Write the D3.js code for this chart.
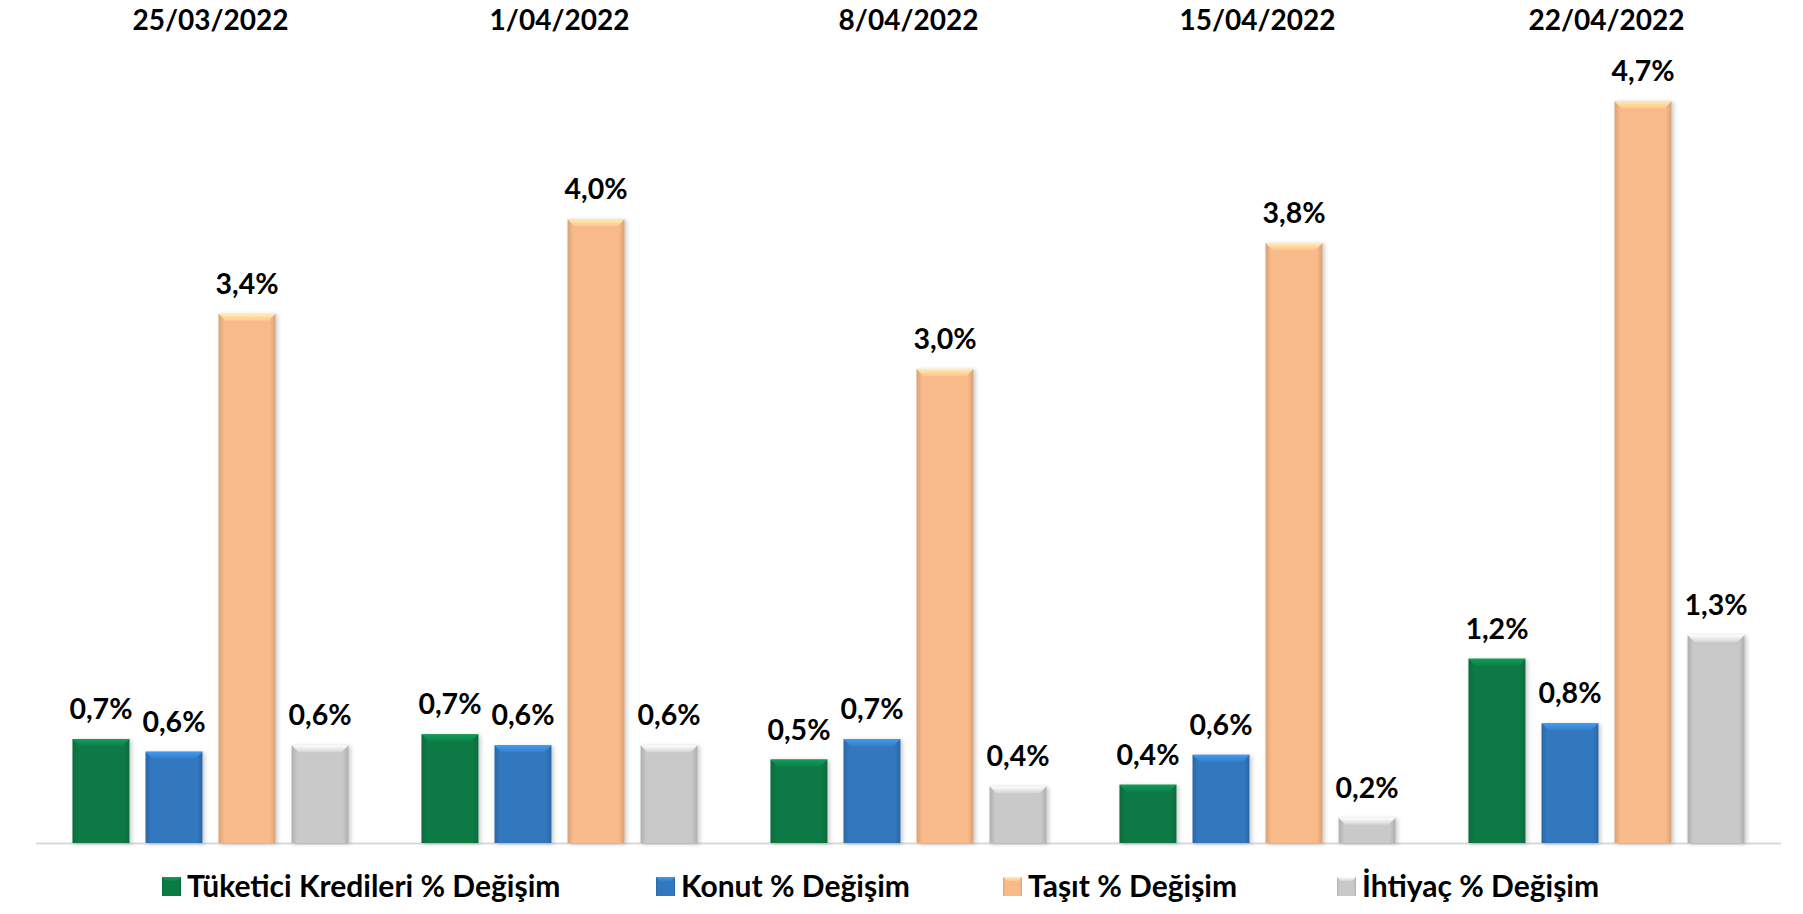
<!DOCTYPE html>
<html>
<head>
<meta charset="utf-8">
<script src="https://cdnjs.cloudflare.com/ajax/libs/d3/7.8.5/d3.min.js"></script>
<style>
	html, body { margin: 0; padding: 0; background: #fff; }
	svg text { font-family: "Lato", "Open Sans", sans-serif; font-weight: bold; fill: #000; }
</style>
</head>
<body>
<script>
/*--chart data--*/
var dates = ["25/03/2022", "1/04/2022", "8/04/2022", "15/04/2022", "22/04/2022"];
var series = ["Tüketici Kredileri % Değişim", "Konut % Değişim", "Taşıt % Değişim", "İhtiyaç % Değişim"];
var tuketici = [0.66, 0.69, 0.53, 0.37, 1.17];
var konut = [0.58, 0.62, 0.66, 0.56, 0.76];
var tasit = [3.36, 3.96, 3.01, 3.81, 4.71];
var ihtiyac = [0.62, 0.62, 0.36, 0.16, 1.32];
var colors = ["#0c7a45", "#3278be", "#f9ba89", "#c9c9c9"];
/*--END chart data--*/

function draw_chart() {
	var width = 1803,
		height = 914,
		base_y = 843;

	var values = [tuketici, konut, tasit, ihtiyac];

	//one row per date, one cell per series
	var rows = dates.map(function (d, i) {
		return {
			date: d,
			cells: series.map(function (s, j) {
				return { key: s, idx: j, value: values[j][i] };
			})
		};
	});

	var tr = d3.formatLocale({ decimal: ",", thousands: ".", grouping: [3], currency: ["", ""] });
	var fmt = tr.format(".1f");

	var svg = d3.select("body").append("svg")
		.attr("width", width)
		.attr("height", height);

	var defs = svg.append("defs");

	//bar shadow
	var shadow = defs.append("filter")
		.attr("id", "bar_shadow")
		.attr("x", "-20%").attr("y", "-10%")
		.attr("width", "140%").attr("height", "120%");
	shadow.append("feDropShadow")
		.attr("dx", 2).attr("dy", 1)
		.attr("stdDeviation", 2)
		.attr("flood-color", "#000")
		.attr("flood-opacity", 0.22);

	//side gradients (darker edges) + top bevel gradients
	colors.forEach(function (c, j) {
		var g = defs.append("linearGradient")
			.attr("id", "side_" + j)
			.attr("x1", "0").attr("x2", "1").attr("y1", "0").attr("y2", "0");
		var dark = d3.color(c).darker(0.4);
		g.append("stop").attr("offset", "0%").attr("stop-color", dark);
		g.append("stop").attr("offset", "10%").attr("stop-color", c);
		g.append("stop").attr("offset", "90%").attr("stop-color", c);
		g.append("stop").attr("offset", "100%").attr("stop-color", dark);

		var t = defs.append("linearGradient")
			.attr("id", "top_" + j)
			.attr("x1", "0").attr("x2", "0").attr("y1", "0").attr("y2", "1");
		t.append("stop").attr("offset", "0%").attr("stop-color", d3.color(c).brighter(0.7));
		t.append("stop").attr("offset", "100%").attr("stop-color", d3.color(c).brighter(0.15));
	});

	//scales
	var x0 = d3.scaleBand()
		.domain(dates)
		.range([36, 1781])
		.paddingInner(0.209)
		.paddingOuter(0.1045);

	var x1 = d3.scaleBand()
		.domain(series)
		.range([0, x0.bandwidth()])
		.paddingInner(0.22);

	var y = d3.scaleLinear()
		.domain([0, 5])
		.range([base_y, base_y - 5 * 157.5]);

	//baseline
	svg.append("line")
		.attr("x1", x0.range()[0]).attr("x2", x0.range()[1])
		.attr("y1", base_y + 0.5).attr("y2", base_y + 0.5)
		.style("stroke", "#d9d9d9")
		.style("stroke-width", 2);

	//category labels on top
	var top_axis = d3.axisTop(x0).tickSize(0).tickPadding(0);
	var ax = svg.append("g")
		.attr("transform", "translate(0,30)")
		.call(top_axis);
	ax.select(".domain").remove();
	ax.selectAll("text")
		.attr("y", 0)
		.attr("dy", 0)
		.style("font-size", "28px")
		.style("font-family", "Lato, 'Open Sans', sans-serif")
		.style("font-weight", "bold")
		.attr("fill", "#000");

	var groups = svg.selectAll(".grp")
		.data(rows)
		.enter().append("g")
		.attr("class", "grp")
		.attr("transform", function (d) { return "translate(" + x0(d.date) + ",0)"; });

	var bars = groups.selectAll(".bar")
		.data(function (d) { return d.cells; })
		.enter().append("g")
		.attr("class", "bar");

	bars.append("rect")
		.attr("x", function (d) { return x1(d.key); })
		.attr("y", function (d) { return y(d.value); })
		.attr("width", x1.bandwidth())
		.attr("height", function (d) { return base_y - y(d.value); })
		.attr("fill", function (d) { return "url(#side_" + d.idx + ")"; })
		.attr("filter", "url(#bar_shadow)");

	//top bevel
	var bev = 7;
	bars.append("polygon")
		.attr("points", function (d) {
			var xl = x1(d.key), xr = xl + x1.bandwidth(), yt = y(d.value);
			var h = Math.min(bev, (base_y - yt) / 2);
			return [xl, yt, xr, yt, xr - h, yt + h, xl + h, yt + h].join(" ");
		})
		.attr("fill", function (d) { return "url(#top_" + d.idx + ")"; });

	//value labels
	bars.append("text")
		.attr("x", function (d) { return x1(d.key) + x1.bandwidth() / 2; })
		.attr("y", function (d) { return y(d.value) - 20; })
		.attr("text-anchor", "middle")
		.style("font-size", "28.5px")
		.text(function (d) { return fmt(d.value) + "%"; });

	//legend
	var legend_x = [162, 656, 1003, 1337];
	var leg = svg.selectAll(".leg")
		.data(series)
		.enter().append("g")
		.attr("class", "leg")
		.attr("transform", function (d, i) { return "translate(" + legend_x[i] + ",0)"; });

	leg.append("rect")
		.attr("x", 0).attr("y", 877)
		.attr("width", 19).attr("height", 19)
		.attr("fill", function (d, i) { return "url(#side_" + i + ")"; });
	leg.append("polygon")
		.attr("points", "0,877 19,877 15,881 4,881")
		.attr("fill", function (d, i) { return "url(#top_" + i + ")"; });
	leg.append("text")
		.attr("x", 25).attr("y", 897)
		.style("font-size", "30px")
		.text(function (d) { return d; });
}

window.addEventListener('load', draw_chart);
</script>
</body>
</html>
